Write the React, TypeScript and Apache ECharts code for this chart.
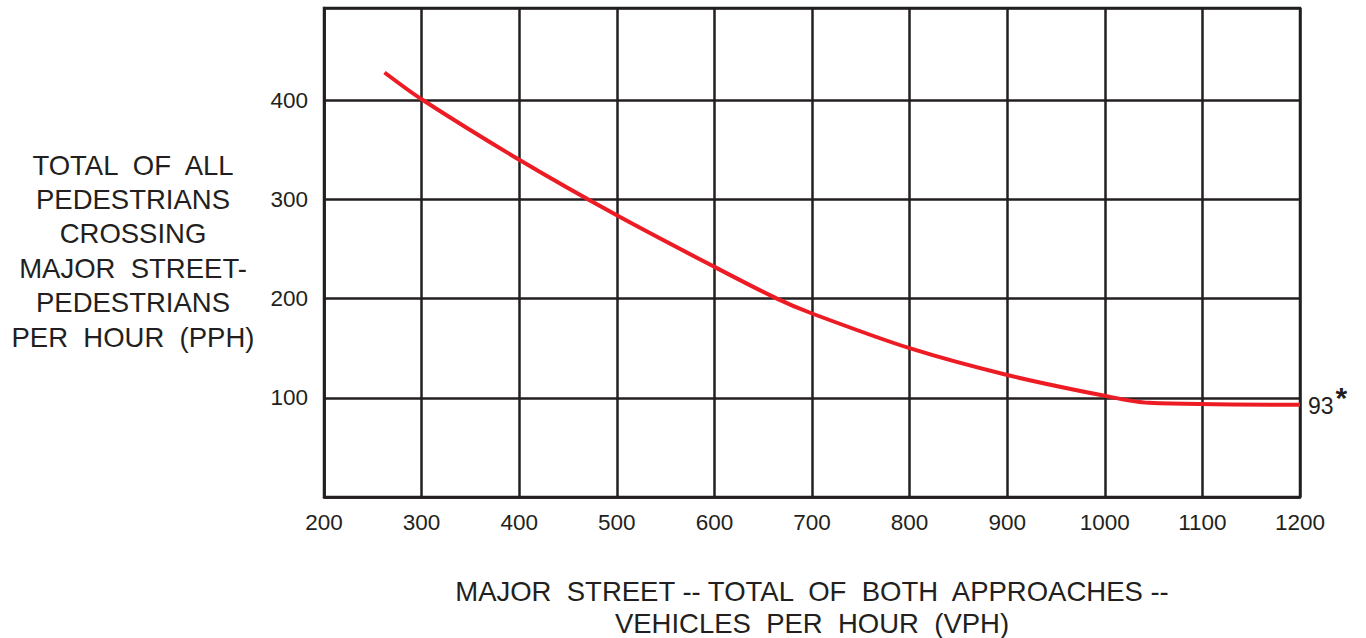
import React, { useEffect, useRef } from "react";
import * as echarts from "echarts";

const vehiclesPerHour = [262, 300, 400, 500, 600, 664, 700, 800, 900, 1000, 1045, 1200];
const pedestriansPerHour = [428, 401, 340, 284, 232, 200, 185, 150, 123, 102, 95, 93];
const xTicks = [200, 300, 400, 500, 600, 700, 800, 900, 1000, 1100, 1200];
const yTicks = [100, 200, 300, 400];
const yAxisTitle = ["TOTAL  OF  ALL", "PEDESTRIANS", "CROSSING", "MAJOR  STREET-", "PEDESTRIANS", "PER  HOUR  (PPH)"];
const xAxisTitle = ["MAJOR  STREET -- TOTAL  OF  BOTH  APPROACHES --", "VEHICLES  PER  HOUR  (VPH)"];

const INK = "#231f20";
const RED = "#ed1c24";
const FONT = "Liberation Sans, Arial, sans-serif";

export default function App() {
  const ref = useRef<HTMLDivElement>(null);
  useEffect(() => {
    document.body.style.margin = "0";
    const chart = echarts.init(ref.current!, undefined, { renderer: "svg" });
    const data = vehiclesPerHour.map((v, i) => [v, pedestriansPerHour[i]]);
    const lastIdx = data.length - 1;
    chart.setOption({
      animation: false,
      textStyle: { fontFamily: FONT },
      grid: {
        left: 324,
        right: 66,
        top: 8,
        bottom: 141,
        outerBoundsMode: "none",
        containLabel: false,
        show: true,
        borderColor: INK,
        borderWidth: 2.5,
      },
      xAxis: {
        type: "value",
        min: xTicks[0],
        max: xTicks[xTicks.length - 1],
        interval: 100,
        axisLine: { show: true, lineStyle: { color: INK, width: 2.5 } },
        axisTick: { show: false },
        splitLine: { show: true, lineStyle: { color: INK, width: 2.5 } },
        axisLabel: {
          color: INK,
          fontSize: 22.5,
          margin: 14,
          fontFamily: FONT,
          formatter: (v: number) => (xTicks.includes(v) ? String(v) : ""),
        },
        name: xAxisTitle.join("\n"),
        nameLocation: "middle",
        nameGap: 78,
        nameTextStyle: { color: INK, fontSize: 27.5, lineHeight: 32, fontFamily: FONT, align: "center" },
      },
      yAxis: {
        type: "value",
        min: 0,
        max: 493,
        interval: 100,
        axisLine: { show: true, lineStyle: { color: INK, width: 2.5 } },
        axisTick: { show: false },
        splitLine: { show: true, lineStyle: { color: INK, width: 2.5 } },
        axisLabel: {
          color: INK,
          fontSize: 22.5,
          margin: 16,
          fontFamily: FONT,
          showMinLabel: false,
          showMaxLabel: false,
          formatter: (v: number) => (yTicks.includes(v) ? String(v) : ""),
        },
      },
      graphic: [
        {
          type: "text",
          x: 133,
          y: 251,
          style: {
            text: yAxisTitle.join("\n"),
            fill: INK,
            font: `27.5px ${FONT}`,
            lineHeight: 34.4,
            align: "center",
            verticalAlign: "middle",
          },
        },
      ],
      series: [
        {
          type: "line",
          data,
          smooth: 0.3,
          showSymbol: false,
          symbol: "none",
          lineStyle: { color: RED, width: 4 },
          markPoint: {
            symbol: "circle",
            symbolSize: 0,
            data: [
              {
                coord: data[lastIdx],
                value: pedestriansPerHour[lastIdx],
                label: {
                  show: true,
                  position: "right",
                  distance: 8,
                  formatter: (p: any) => `{n|${p.value}}{s|*}`,
                  rich: {
                    n: { fontSize: 23, color: INK, fontFamily: FONT, padding: [2, 0, 0, 0] },
                    s: { fontSize: 30, fontWeight: "bold", color: INK, fontFamily: FONT, padding: [0, 0, 14, 2] },
                  },
                },
              },
            ],
          },
        },
      ],
    });
    return () => chart.dispose();
  }, []);
  return <div ref={ref} style={{ width: 1366, height: 638 }} />;
}
